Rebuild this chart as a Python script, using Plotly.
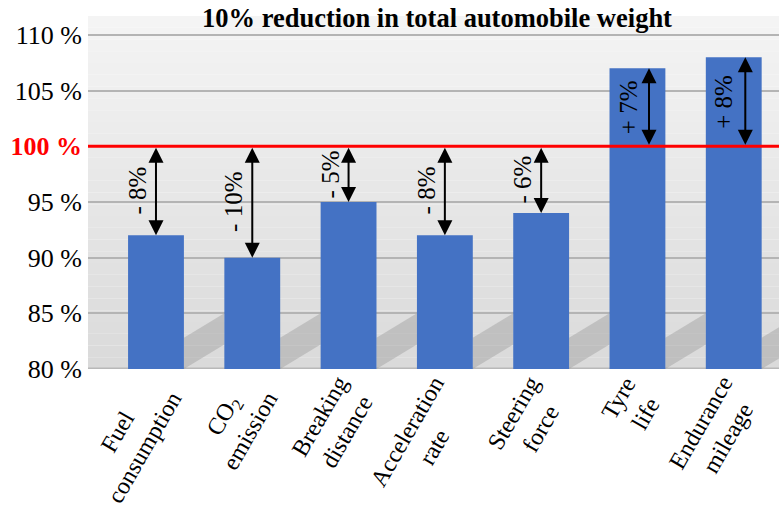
import math
import plotly.graph_objects as go

# Effect of a 10% lighter car on each indicator (baseline = 100 %)
label_lines = [
    ["Fuel", "consumption"],
    ["CO<sub>2</sub>", "emission"],
    ["Breaking", "distance"],
    ["Acceleration", "rate"],
    ["Steering", "force"],
    ["Tyre", "life"],
    ["Endurance", "mileage"],
]
values = [92, 90, 95, 92, 94, 107, 108]
change_labels = ["- 8%", "- 10%", "- 5%", "- 8%", "- 6%", "+ 7%", "+ 8%"]
baseline = 100
tick_vals = [80, 85, 90, 95, 100, 105, 110]
tick_text = ["80 %", "85 %", "90 %", "95 %",
             "<span style='color:#ff0000'><b>100 %</b></span>", "105 %", "110 %"]

FONT = "Liberation Serif"
BAR_COLOR = "#4472C4"
BAR_WIDTH = 0.58
Y_MIN, Y_MAX = 80, 111.7
X_MIN, X_MAX = -0.706, 6.47
LABEL_SIZE = 24
LABEL_ANGLE = 60  # degrees, text rises to the right

# Times-style advance widths (per em) for estimating label lengths
_W = dict(zip("abcdefghijklmnopqrstuvwxyz",
              [.444, .5, .444, .5, .444, .333, .5, .5, .278, .278, .5, .278, .778,
               .5, .5, .5, .5, .333, .389, .278, .5, .5, .722, .5, .5, .444]))
_W.update(dict(zip("ABCDEFGHIJKLMNOPQRSTUVWXYZ",
                   [.722, .667, .667, .722, .611, .556, .722, .722, .333, .389, .722,
                    .611, .889, .722, .722, .556, .722, .667, .556, .611, .722, .722,
                    .944, .722, .722, .611])))


def text_width(s, size):
    s = s.replace("<sub>", "").replace("</sub>", "")
    return sum(_W.get(ch, 0.5) for ch in s) * size


idx = list(range(len(values)))

fig = go.Figure()
fig.add_trace(go.Bar(
    x=idx, y=[v - Y_MIN for v in values], base=Y_MIN,
    width=BAR_WIDTH, marker=dict(color=BAR_COLOR, line=dict(width=0)),
    hoverinfo="skip",
))

shapes = []
# vertical grey gradient behind the plot
n_strips = 30
top_rgb = (244, 244, 244)
bot_rgb = (218, 218, 218)
for k in range(n_strips):
    t = k / (n_strips - 1)
    c = tuple(int(round(top_rgb[j] + (bot_rgb[j] - top_rgb[j]) * t)) for j in range(3))
    shapes.append(dict(
        type="rect", xref="paper", yref="paper", layer="below",
        x0=0, x1=1, y0=1 - (k + 1) / n_strips, y1=1 - k / n_strips,
        fillcolor="rgb(%d,%d,%d)" % c, line=dict(width=0),
    ))

# floor shadows cast by each bar
for i in idx:
    xr = i + BAR_WIDTH / 2
    shapes.append(dict(
        type="path", xref="x", yref="y", layer="below",
        path="M %f,%f L %f,%f L %f,%f L %f,%f Z" % (
            xr, Y_MIN, xr, Y_MIN + 2.8, xr + 0.42, Y_MIN + 5.0, xr + 0.42, Y_MIN + 2.2),
        fillcolor="rgba(150,150,150,0.40)", line=dict(width=0),
    ))

# floor line
shapes.append(dict(
    type="line", xref="paper", yref="y", x0=0, x1=1, y0=Y_MIN, y1=Y_MIN,
    line=dict(color="#b8b8b8", width=3), layer="below",
))
# red 100 % reference line
shapes.append(dict(
    type="line", xref="paper", yref="y", x0=0, x1=1, y0=baseline, y1=baseline,
    line=dict(color="#ff0000", width=3), layer="above",
))

annotations = []
for i, (v, lab) in enumerate(zip(values, change_labels)):
    if v < baseline:
        ax_x = i
        tx = i - 0.19
    else:
        ax_x = i + 0.12
        tx = i - 0.10
    # double-headed arrow between the baseline and the bar top
    annotations.append(dict(
        x=ax_x, y=v, ax=ax_x, ay=baseline, xref="x", yref="y", axref="x", ayref="y",
        text="", showarrow=True, arrowhead=2, startarrowhead=2, arrowside="end+start",
        arrowsize=1.5, startarrowsize=1.5, arrowwidth=2, arrowcolor="black",
        standoff=0, startstandoff=0,
    ))
    annotations.append(dict(
        x=tx, y=(v + baseline) / 2, xref="x", yref="y", text=lab, showarrow=False,
        textangle=-90, font=dict(family=FONT, size=25, color="black"),
    ))

# slanted two-line category labels: the end of each text block sits just under the axis
ca = math.cos(math.radians(LABEL_ANGLE))
sa = math.sin(math.radians(LABEL_ANGLE))
for i, lines in enumerate(label_lines):
    half = max(text_width(s, LABEL_SIZE) for s in lines) / 2
    annotations.append(dict(
        x=i, y=0, xref="x", yref="paper", xanchor="center", yanchor="middle",
        xshift=6 - ca * half, yshift=-(17 + sa * half),
        text="<br>".join(lines), align="center", showarrow=False,
        textangle=-LABEL_ANGLE, font=dict(family=FONT, size=LABEL_SIZE, color="black"),
    ))

fig.update_layout(
    width=779, height=507,
    margin=dict(l=88, r=0, t=16, b=138),
    paper_bgcolor="white", plot_bgcolor="rgba(0,0,0,0)",
    showlegend=False,
    title=dict(
        text="<b>10% reduction in total automobile weight</b>",
        font=dict(family=FONT, size=26.5, color="black"),
        x=0.561, xanchor="center", y=1 - 18 / 507, yanchor="middle",
        xref="container", yref="container",
    ),
    xaxis=dict(
        range=[X_MIN, X_MAX], showticklabels=False,
        showgrid=False, zeroline=False, showline=False, ticks="",
    ),
    yaxis=dict(
        range=[Y_MIN, Y_MAX], tickmode="array", tickvals=tick_vals, ticktext=tick_text,
        tickfont=dict(family=FONT, size=26, color="black"),
        showgrid=True, gridcolor="#b4b4b4", gridwidth=2, zeroline=False,
        showline=False, ticks="", ticklabelstandoff=5,
    ),
    shapes=shapes,
    annotations=annotations,
)

fig.write_html("out.html")
